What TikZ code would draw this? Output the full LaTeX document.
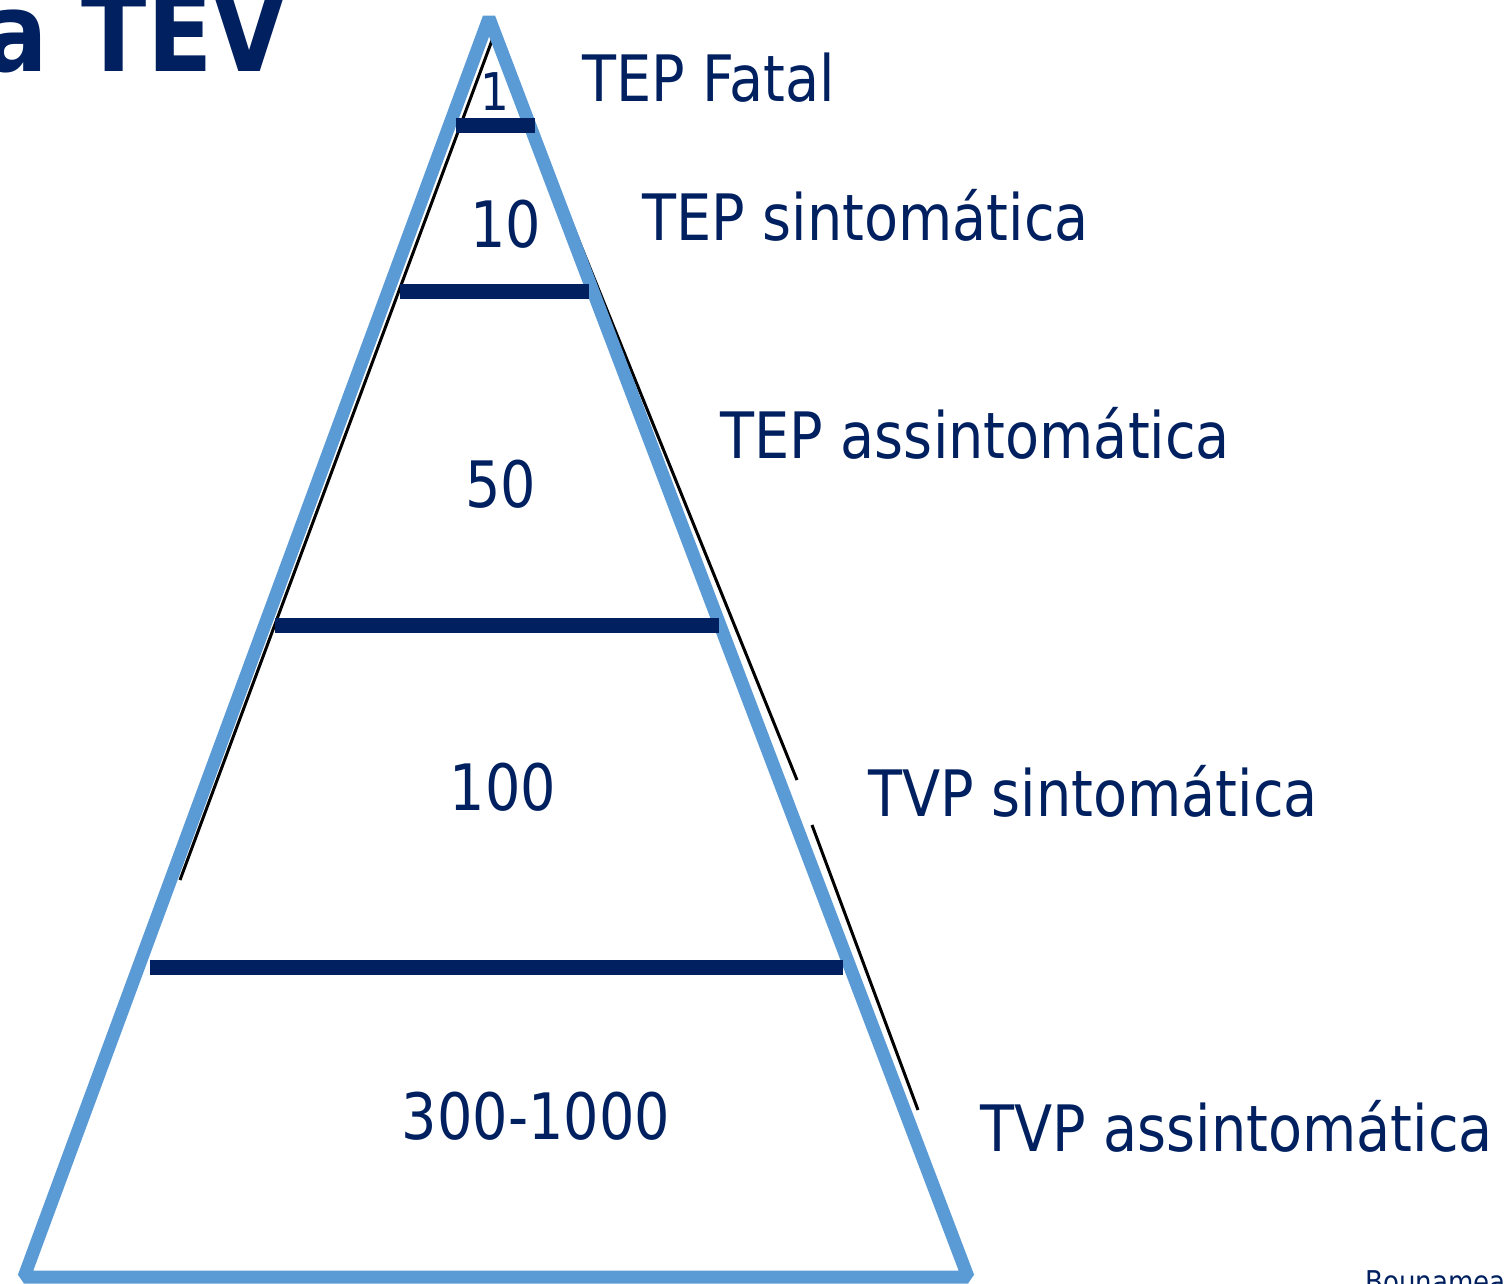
\documentclass[tikz,border=0pt]{standalone}
\usepackage{fontspec}
\setmainfont{DejaVu Sans}[FakeStretch=0.87]
\usepackage{tikz}
\usetikzlibrary{positioning,calc}
\definecolor{tevnavy}{RGB}{0,32,96}
\definecolor{tevblue}{RGB}{91,155,213}

\begin{document}
\begin{tikzpicture}[x=0.5pt,y=-0.5pt]
%\draw[gray,very thin] (0,0) grid (1507,1283);
\tikzstyle{level} = [draw=tevnavy, line width=7.5pt]
\tikzstyle{count} = [text=tevnavy, inner sep=0pt, font=\fontsize{32}{38}\selectfont]
\tikzstyle{lbl} = [text=tevnavy, inner sep=0pt, anchor=base west, font=\fontsize{32}{38}\selectfont]
\useasboundingbox (0,0) rectangle (1507,1283);
\clip (0,0) rectangle (1507,1283);
%Corners of the pyramid
\coordinate (top) at (489,18);
\coordinate (bl) at (24,1277);
\coordinate (br) at (968,1277);
%Old black outline under the blue one
\begin{scope}[line width=1.5pt]
\draw (494,35) -- (180,880);
\draw (520,95) -- (797,780);
\draw (812,825) -- (918,1110);
\end{scope}
\draw[tevblue, line width=6.5pt, line join=bevel] (top) -- (br) -- (bl) -- cycle;
%Level bars
\draw[level] (456,126) -- (535,126);
\draw[level] (400,292) -- (589,292);
\draw[level] (275,625) -- (719,625);
\draw[level] (150,967) -- (843,967);
%Counts
\node[count, font=\fontsize{26}{30}\selectfont] (n1) at (495,92) {1};
\node[count] (n10) at (506,224) {10};
\node[count] (n50) at (501,484) {50};
\node[count] (n100) at (503,787) {100};
\node[count] (n300) at (536,1116) {300-1000};
%Labels
\node[lbl] (fatal) at (582,102) {TEP Fatal};
\node[lbl] (tepsint) at (642,241) {TEP sintomática};
\node[lbl] (tepass) at (720,458) {TEP assintomática};
\node[lbl] (tvpsint) at (868,816) {TVP sintomática};
\node[lbl] (tvpass) at (980,1151) {TVP assintomática};
%Title and source, cut by the page edge
\node[text=tevnavy, inner sep=0pt, anchor=base east, font=\fontsize{55}{60}\selectfont\bfseries] (title) at (287,72) {a TEV};
\node[text=tevnavy, inner sep=0pt, anchor=base west, font=\fontsize{15}{18}\selectfont] (src) at (1365,1292) {Bounameaux};
\end{tikzpicture}
\end{document}
